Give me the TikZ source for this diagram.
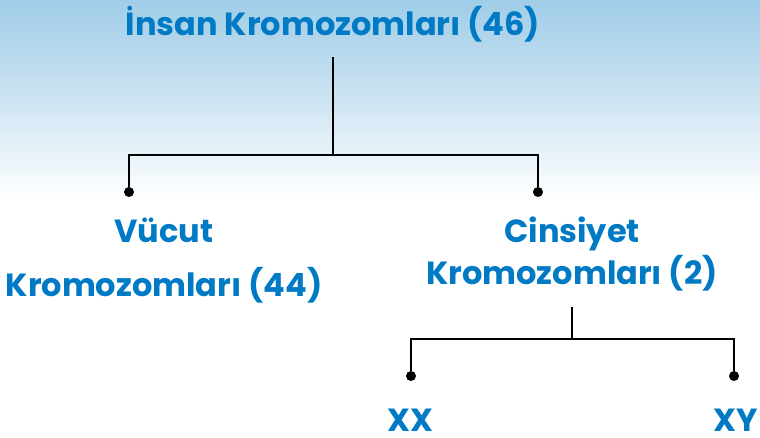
\documentclass[tikz,border=0pt]{standalone}
\usepackage{fontspec}
\setmainfont{Poppins}
\definecolor{tblue}{RGB}{0,122,196}
\definecolor{skyblue}{RGB}{160,205,232}
\definecolor{skymid}{RGB}{205,228,242}
\begin{document}
\begin{tikzpicture}[x=1pt,y=-1pt,
  lbl/.style={text=tblue,font=\fontsize{32}{40}\selectfont\bfseries,align=center,inner sep=0pt},
  dot/.style={circle,fill=black,inner sep=0pt,minimum size=10pt},
  conn/.style={draw=black,line width=2.2pt}]
\useasboundingbox (0,0) rectangle (760,438);
\shade[top color=skyblue,bottom color=skymid] (0,0) rectangle (760,100);
\shade[top color=skymid,bottom color=white] (0,100) rectangle (760,200);
\fill[white] (0,200) rectangle (760,438);
\node[lbl,anchor=base] (root) at (333,36) {İnsan Kromozomları (46)};
\coordinate (rtop) at (333,57);
\coordinate (j1) at (333,155);
\coordinate (j1l) at (129,155);
\coordinate (j1r) at (538,155);
\node[dot] (dl) at (129,192) {};
\node[dot] (dr) at (538,192) {};
\node[lbl,anchor=base] (vucut) at (164,243) {Vücut};
\node[lbl,anchor=base] (vucut2) at (164,296) {Kromozomları (44)};
\node[lbl,anchor=base] (cins) at (572,243) {Cinsiyet};
\node[lbl,anchor=base] (cins2) at (572,284) {Kromozomları (2)};
\coordinate (ctop) at (572,307);
\coordinate (j2) at (572,339);
\coordinate (j2l) at (411,339);
\coordinate (j2r) at (734,339);
\node[dot] (dxx) at (411,376) {};
\node[dot] (dxy) at (734,376) {};
\node[lbl,anchor=base] (xx) at (410,431) {XX};
\node[lbl,anchor=base west] (xy) at (713,431) {XY};
\draw[conn] (rtop) -- (j1);
\draw[conn] (dl) -- (j1l) -- (j1r) -- (dr);
\draw[conn] (ctop) -- (j2);
\draw[conn] (dxx) -- (j2l) -- (j2r) -- (dxy);
\end{tikzpicture}
\end{document}
